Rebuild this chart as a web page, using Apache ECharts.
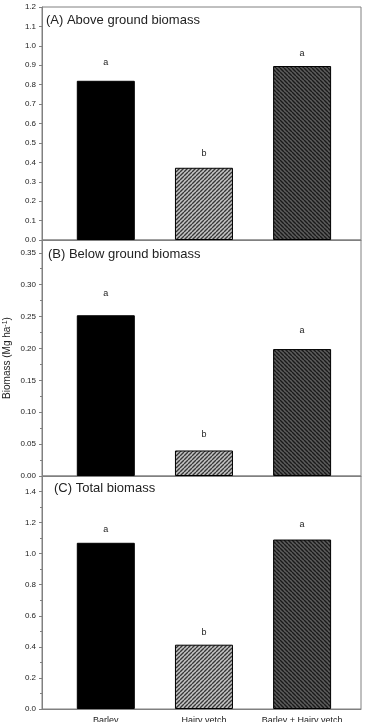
<!DOCTYPE html>
<html>
<head>
<meta charset="utf-8">
<script src="https://cdn.jsdelivr.net/npm/echarts@6/dist/echarts.min.js"></script>
<style>
  html, body { margin: 0; padding: 0; background: #fff; }
  #chart { width: 368px; height: 722px; }
</style>
</head>
<body>
<div id="chart"></div>
<script>
// data
const categories = ['Barley', 'Hairy vetch', 'Barley + Hairy vetch']
const aboveValues = [0.82, 0.372, 0.896]
const belowValues = [0.252, 0.040, 0.199]
const totalValues = [1.070, 0.414, 1.091]
const aboveLetters = ['a', 'b', 'a']
const belowLetters = ['a', 'b', 'a']
const totalLetters = ['a', 'b', 'a']
const panelTitles = ['(A) Above ground biomass', '(B) Below ground biomass', '(C) Total biomass']

// distance of the letters above the bars
const aboveGap = [14, 10, 8]
const belowGap = [17, 11, 14]
const totalGap = [9, 8, 11]

const font = 'Liberation Sans, Arial, sans-serif'
const frame = '#808080'

// hatched fills
const hatch = (bg, fg, dir) => {
  const c = document.createElement('canvas')
  c.width = 4
  c.height = 4
  const ctx = c.getContext('2d')
  ctx.fillStyle = bg
  ctx.fillRect(0, 0, 4, 4)
  ctx.strokeStyle = fg
  ctx.lineWidth = 1.4
  ctx.beginPath()
  if (dir === '/') {
    for (let k = -4; k <= 8; k += 4) {
      ctx.moveTo(k - 4, 4); ctx.lineTo(k, 0)
    }
  } else {
    for (let k = -4; k <= 8; k += 4) {
      ctx.moveTo(k - 4, 0); ctx.lineTo(k, 4)
    }
  }
  ctx.stroke()
  return { image: c, repeat: 'repeat' }
}
const fills = ['#000', hatch('#c4c4c4', '#383838', '/'), hatch('#5c5c5c', '#1a1a1a', '\\')]

const grids = [
  { left: 42, right: 7, top: 7, height: 233 },
  { left: 42, right: 7, top: 240, height: 236 },
  { left: 42, right: 7, top: 476, height: 233 }
].map(g => ({ ...g, show: true, borderColor: frame, borderWidth: 1, outerBoundsMode: 'none' }))

const xAxes = [0, 1, 2].map(i => ({
  type: 'value',
  gridIndex: i,
  min: -0.65,
  max: 2.6,
  splitLine: { show: false },
  axisTick: { show: false },
  axisLine: { show: true, onZero: false, lineStyle: { color: frame } },
  axisLabel: i === 2 ? {
    customValues: [0, 1, 2],
    formatter: v => categories[Math.round(v)],
    fontSize: 9,
    fontFamily: font,
    color: '#222',
    margin: 7
  } : { show: false }
}))

const yAxis = (i, max, interval, digits, minor) => ({
  type: 'value',
  gridIndex: i,
  min: 0,
  max: max,
  interval: interval,
  splitLine: { show: false },
  axisLine: { show: true, onZero: false, lineStyle: { color: frame } },
  axisTick: { show: true, inside: false, length: 3, lineStyle: { color: frame } },
  minorTick: { show: minor, splitNumber: 2, length: 2, lineStyle: { color: frame } },
  axisLabel: {
    formatter: v => v.toFixed(digits),
    showMaxLabel: i === 0,
    fontSize: 8,
    fontFamily: font,
    color: '#222',
    margin: 6
  }
})
const yAxes = [
  yAxis(0, 1.2, 0.1, 1, false),
  {
    ...yAxis(1, 0.37, 0.05, 2, true),
    name: 'Biomass (Mg ha{sup|-1})',
    nameLocation: 'middle',
    nameRotate: 90,
    nameGap: 30,
    nameMoveOverlap: false,
    nameTextStyle: {
      fontSize: 10,
      fontFamily: font,
      color: '#222',
      rich: { sup: { fontSize: 7, fontFamily: font, color: '#222', verticalAlign: 'top' } }
    }
  },
  yAxis(2, 1.5, 0.2, 1, true)
]

const barSeries = (i, values, letters, gaps) => ({
  type: 'bar',
  xAxisIndex: i,
  yAxisIndex: i,
  barWidth: 58,
  data: values.map((v, k) => ({
    value: [k, v],
    itemStyle: { color: fills[k], borderColor: '#000', borderWidth: 1 },
    label: {
      show: true,
      position: 'top',
      distance: gaps[k],
      formatter: letters[k],
      fontSize: 9,
      fontFamily: font,
      color: '#222'
    }
  })),
  silent: true,
  animation: false
})

const titles = panelTitles.map((t, i) => ({
  text: t,
  left: [46, 48, 54][i],
  top: [14, 248, 482][i],
  padding: 0,
  textStyle: { fontSize: 13, fontWeight: 'normal', fontFamily: font, color: '#222' }
}))

const chart = echarts.init(document.getElementById('chart'))
chart.setOption({
  backgroundColor: '#fff',
  animation: false,
  title: titles,
  grid: grids,
  xAxis: xAxes,
  yAxis: yAxes,
  series: [
    barSeries(0, aboveValues, aboveLetters, aboveGap),
    barSeries(1, belowValues, belowLetters, belowGap),
    barSeries(2, totalValues, totalLetters, totalGap)
  ]
})
</script>
</body>
</html>
